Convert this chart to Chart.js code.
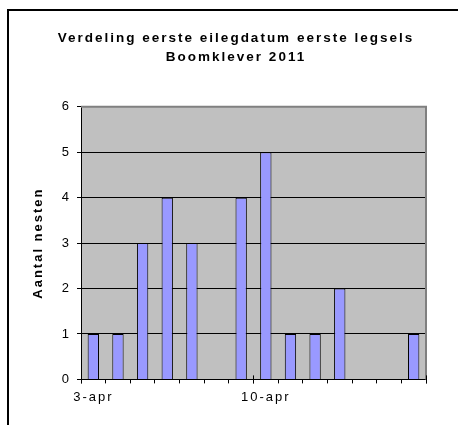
<!DOCTYPE html>
<html>
<head>
<meta charset="utf-8">
<script src="https://cdn.jsdelivr.net/npm/chart.js@4"></script>
<style>
  html, body { margin: 0; padding: 0; background: #fff; overflow: hidden; }
</style>
</head>
<body>
<canvas id="chart" width="459" height="425"></canvas>
<script>
var days = ['3-apr', '4-apr', '5-apr', '6-apr', '7-apr', '8-apr', '9-apr',
            '10-apr', '11-apr', '12-apr', '13-apr', '14-apr', '15-apr', '16-apr'];
var nests = [1, 1, 3, 4, 3, 0, 4, 5, 1, 1, 2, 0, 0, 1];
var shownLabels = ['3-apr', '10-apr'];
var yTicks = [0, 1, 2, 3, 4, 5, 6];

Chart.defaults.font.family = '"Liberation Sans", Arial, sans-serif';
Chart.defaults.color = '#000';

// excel style: outer frame, grey plot area, grey frame top/right, crossing major ticks
var plotArea = {
    id: 'plotArea',
    beforeDraw: function (chart) {
        var a = chart.chartArea, ctx = chart.ctx;
        ctx.save();
        ctx.fillStyle = '#fff';
        ctx.fillRect(0, 0, chart.width, chart.height);
        ctx.fillStyle = '#000';
        ctx.fillRect(7, 9, 2, chart.height - 9);
        ctx.fillRect(7, 9, chart.width - 8, 2);
        ctx.fillStyle = '#c0c0c0';
        ctx.fillRect(a.left, a.top, a.right - a.left, a.bottom - a.top);
        ctx.restore();
        ctx.letterSpacing = '2px';
    },
    beforeDatasetsDraw: function (chart) {
        var a = chart.chartArea, ctx = chart.ctx;
        ctx.save();
        ctx.strokeStyle = '#808080';
        ctx.lineWidth = 2;
        ctx.beginPath();
        ctx.moveTo(a.left, a.top);
        ctx.lineTo(a.right, a.top);
        ctx.lineTo(a.right, a.bottom);
        ctx.stroke();
        var x = chart.scales.x;
        var half = (x.getPixelForValue(1) - x.getPixelForValue(0)) / 2;
        ctx.strokeStyle = '#000';
        ctx.lineWidth = 1;
        ctx.beginPath();
        for (var i = 0; i <= days.length; i += 7) {
            var px = Math.round(x.getPixelForValue(i) - half) + 0.5;
            ctx.moveTo(px, a.bottom - 4);
            ctx.lineTo(px, a.bottom + 4);
        }
        ctx.stroke();
        ctx.restore();
    }
};

new Chart(document.getElementById('chart'), {
    type: 'bar',
    data: {
        labels: days,
        datasets: [{
            data: nests,
            backgroundColor: '#9999ff',
            borderColor: '#000',
            borderWidth: 1,
            borderSkipped: 'start',
            barPercentage: 0.46,
            categoryPercentage: 1
        }]
    },
    options: {
        responsive: false,
        animation: false,
        layout: { padding: { left: 13, right: 0, top: 0, bottom: 14 } },
        plugins: {
            legend: { display: false },
            tooltip: { enabled: false },
            title: {
                display: true,
                text: ['Verdeling eerste eilegdatum eerste legsels', 'Boomklever 2011'],
                font: { size: 13.5, weight: 'bold', lineHeight: 1.4 },
                color: '#000',
                padding: { top: 29, bottom: 40 }
            }
        },
        scales: {
            x: {
                offset: true,
                grid: { offset: true, drawOnChartArea: false, drawTicks: true, tickLength: 4, color: '#000' },
                border: { color: '#000', width: 1 },
                ticks: {
                    autoSkip: false,
                    maxRotation: 0,
                    font: { size: 13 },
                    padding: 6,
                    callback: function (v, i) {
                        var d = days[i];
                        return shownLabels.indexOf(d) >= 0 ? d : '';
                    }
                }
            },
            y: {
                min: yTicks[0],
                max: yTicks[yTicks.length - 1],
                afterFit: function (s) { s.width = 68; },
                grid: {
                    color: function (c) { return c.tick && c.tick.value === 6 ? '#808080' : '#000'; },
                    tickColor: '#000',
                    tickLength: 4
                },
                border: { color: '#000', width: 1 },
                ticks: { stepSize: 1, font: { size: 13 }, padding: 6 },
                title: {
                    display: true,
                    text: 'Aantal nesten',
                    font: { size: 13, weight: 'bold' },
                    padding: { top: 18, bottom: 0 }
                }
            },
            // empty right-hand space so the title centres over the whole chart
            y2: {
                type: 'linear',
                position: 'right',
                afterFit: function (s) { s.width = 33; },
                grid: { display: false },
                border: { display: false },
                ticks: { display: false }
            }
        }
    },
    plugins: [plotArea]
});
</script>
</body>
</html>
